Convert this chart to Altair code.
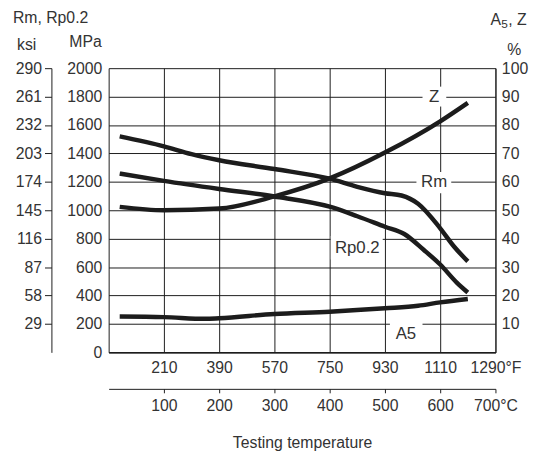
import altair as alt
import pandas as pd

# ---------------- data ----------------
rm_temp = [20, 100, 150, 200, 300, 400, 450, 500, 530, 560, 600, 625, 650]
rm_mpa = [1520, 1450, 1395, 1352, 1290, 1222, 1165, 1120, 1104, 1046, 873, 745, 640]

rp_temp = [20, 100, 200, 300, 400, 450, 500, 535, 570, 600, 630, 650]
rp_mpa = [1258, 1207, 1150, 1097, 1025, 958, 884, 833, 722, 618, 491, 421]

z_temp = [20, 100, 200, 300, 400, 500, 600, 650]
z_pct = [51.2, 50.0, 50.6, 54.9, 61.2, 70.3, 81.3, 87.8]

a5_temp = [20, 100, 175, 200, 300, 400, 500, 560, 600, 650]
a5_pct = [12.6, 12.4, 11.8, 12.0, 13.5, 14.3, 15.5, 16.4, 17.6, 18.8]

c_ticks = [100, 200, 300, 400, 500, 600, 700]
c_labels = ["100", "200", "300", "400", "500", "600", "700°C"]
f_labels = ["210", "390", "570", "750", "930", "1110", "1290°F"]
mpa_ticks = [0, 200, 400, 600, 800, 1000, 1200, 1400, 1600, 1800, 2000]
ksi_labels = ["29", "58", "87", "116", "145", "174", "203", "232", "261", "290"]
pct_labels = ["10", "20", "30", "40", "50", "60", "70", "80", "90", "100"]

# curve labels (temperature °C, MPa-equivalent position)
lab_text = ["Z", "Rm", "Rp0.2", "A5"]
lab_c = [589, 589, 450, 538]
lab_v = [1800, 1200, 736, 132]
box_c1 = [568, 557, 402, 509]
box_c2 = [611, 620, 496, 568]
box_v1 = [1730, 1120, 653, 49]
box_v2 = [1870, 1270, 819, 215]

FONT = "Liberation Sans, Arial, sans-serif"
TXT = "#333333"
INK = "#1c1c1c"
FS = 16

strength = pd.concat([
    pd.DataFrame({"c": rm_temp, "v": rm_mpa, "s": "Rm"}),
    pd.DataFrame({"c": rp_temp, "v": rp_mpa, "s": "Rp0.2"}),
])
ductility = pd.concat([
    pd.DataFrame({"c": z_temp, "p": z_pct, "s": "Z"}),
    pd.DataFrame({"c": a5_temp, "p": a5_pct, "s": "A5"}),
])
labels = pd.DataFrame({"t": lab_text, "c": lab_c, "v": lab_v})
boxes = pd.DataFrame({"c": box_c1, "c2": box_c2, "v": box_v1, "v2": box_v2})


def lookup(lst, div):
    arr = "[" + ",".join("'" + s + "'" for s in lst) + "]"
    return arr + "[round(datum.value/" + str(div) + ")-1]"


xs = alt.Scale(domain=[0, 700], nice=False, zero=False)
ys = alt.Scale(domain=[0, 2000], nice=False, zero=False)

common = dict(labelFont=FONT, labelFontSize=FS, labelColor=TXT, labelFlush=False,
              labelOverlap=False, domainColor=INK, tickColor=INK)

axis_f = alt.Axis(orient="bottom", values=c_ticks, labelExpr=lookup(f_labels, 100),
                  grid=True, gridColor=INK, gridWidth=1, gridOpacity=1,
                  ticks=False, domainWidth=1.5, labelPadding=7, title=None, **common)
axis_c = alt.Axis(orient="bottom", offset=37, values=c_ticks, labelExpr=lookup(c_labels, 100),
                  grid=False, ticks=True, tickSize=4, domainWidth=1, labelPadding=5,
                  title="Testing temperature", titleFont=FONT, titleFontSize=FS,
                  titleFontWeight="normal", titleColor=TXT, titlePadding=21, **common)
axis_mpa = alt.Axis(orient="left", values=mpa_ticks, format="d",
                    grid=True, gridColor=INK, gridWidth=1, gridOpacity=1,
                    ticks=False, domainWidth=1, labelPadding=7, title=None, **common)
axis_pct = alt.Axis(orient="right", values=mpa_ticks[1:], labelExpr=lookup(pct_labels, 200),
                    grid=False, ticks=False, domainWidth=1, labelPadding=6, title=None, **common)
axis_ksi = alt.Axis(orient="left", offset=58, values=mpa_ticks[1:], labelExpr=lookup(ksi_labels, 200),
                    grid=False, ticks=True, tickSize=7, domainWidth=1, labelPadding=3,
                    title=None, **common)

line_a = alt.Chart(strength).mark_line(color=INK, strokeWidth=4.5, interpolate="monotone").encode(
    x=alt.X("c:Q", scale=xs, axis=axis_f),
    y=alt.Y("v:Q", scale=ys, axis=axis_mpa),
    detail="s:N",
)
line_b = alt.Chart(ductility).transform_calculate(v="datum.p * 20").mark_line(
    color=INK, strokeWidth=4.5, interpolate="monotone").encode(
    x=alt.X("c:Q", scale=xs, axis=axis_c),
    y=alt.Y("v:Q", scale=ys, axis=axis_pct),
    detail="s:N",
)
box_layer = alt.Chart(boxes).mark_rect(color="white").encode(
    x=alt.X("c:Q", scale=xs, axis=None), x2="c2:Q",
    y=alt.Y("v:Q", scale=ys, axis=axis_ksi), y2="v2:Q",
)
text_layer = alt.Chart(labels).mark_text(font=FONT, fontSize=17, color=TXT).encode(
    x=alt.X("c:Q", scale=xs, axis=None),
    y=alt.Y("v:Q", scale=ys, axis=None),
    text="t:N",
)


def title_text(txt, px, py, align="left", size=FS):
    return alt.Chart(alt.Data(values=[{}])).mark_text(
        font=FONT, fontSize=size, color=TXT, align=align, baseline="middle").encode(
        x=alt.value(px), y=alt.value(py), text=alt.value(txt))


titles = [
    title_text("Rm, Rp0.2", -97, -51),
    title_text("ksi", -83, -23, "center"),
    title_text("MPa", -7, -26, "right"),
    title_text("A", 387, -49),
    title_text("5", 398, -45, size=12),
    title_text(", Z", 405, -49),
    title_text("%", 411, -18, "center"),
]

chart = alt.layer(line_a, line_b, box_layer, text_layer, *titles).resolve_axis(
    x="independent", y="independent"
).properties(
    width=392, height=288,
    autosize=alt.AutoSizeParams(type="none"),
    padding={"left": 102, "top": 58, "right": 34, "bottom": 98},
).configure_view(stroke=None)

chart.save("out.html", embed_options={"renderer": "svg", "actions": False})
